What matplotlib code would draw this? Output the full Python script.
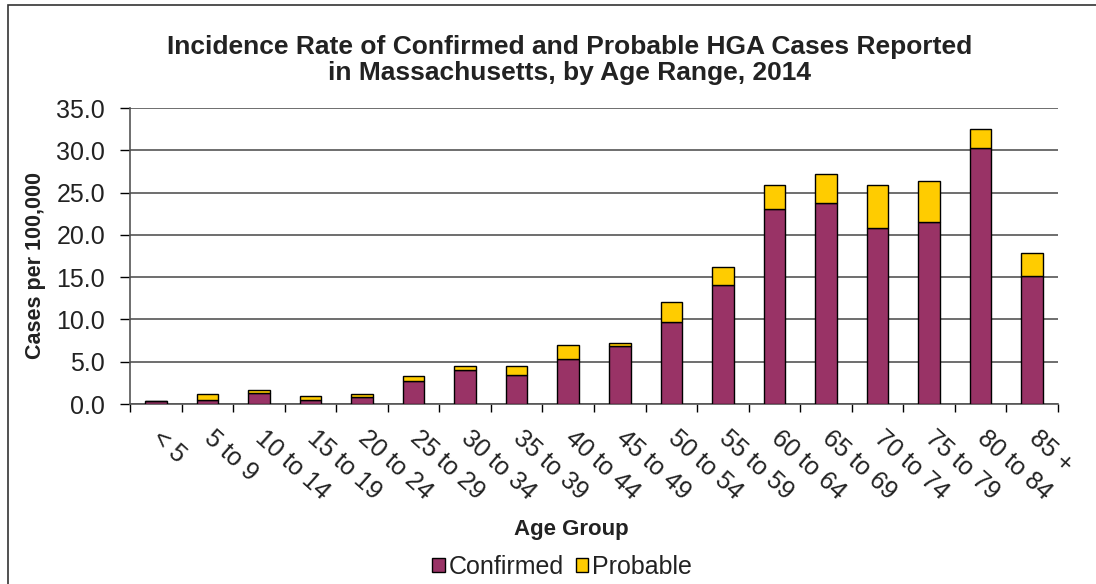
import matplotlib
matplotlib.use("Agg")
import matplotlib.pyplot as plt
import numpy as np
from matplotlib.patches import Rectangle

plt.rcParams["font.family"] = ["Liberation Sans", "DejaVu Sans"]

age_groups = ["< 5", "5 to 9", "10 to 14", "15 to 19", "20 to 24", "25 to 29",
              "30 to 34", "35 to 39", "40 to 44", "45 to 49", "50 to 54", "55 to 59",
              "60 to 64", "65 to 69", "70 to 74", "75 to 79", "80 to 84", "85 +"]
confirmed = [0.3, 0.5, 1.3, 0.5, 0.8, 2.7, 4.0, 3.4, 5.3, 6.8, 9.7, 14.1,
             23.0, 23.8, 20.8, 21.5, 30.3, 15.1]
probable = [0.1, 0.7, 0.4, 0.4, 0.4, 0.6, 0.5, 1.1, 1.7, 0.4, 2.4, 2.1,
            2.9, 3.4, 5.1, 4.9, 2.2, 2.7]
y_ticks = [0, 5, 10, 15, 20, 25, 30, 35]

W, H = 1096, 584
fig = plt.figure(figsize=(W / 100, H / 100), dpi=100)
ax = fig.add_axes([130 / W, 1 - 404 / H, (1058 - 130) / W, (404 - 108) / H])

x = np.arange(len(age_groups))
b1 = ax.bar(x, confirmed, width=0.42, color="#993366", edgecolor="black",
            linewidth=1, zorder=3, label="Confirmed")
b2 = ax.bar(x, probable, width=0.42, bottom=confirmed, color="#FFCC00",
            edgecolor="black", linewidth=1, zorder=3, label="Probable")

ax.set_xlim(-0.5, len(age_groups) - 0.5)
ax.set_ylim(0, 35)
ax.set_yticks(y_ticks)
ax.set_yticklabels([f"{v:.1f}" for v in y_ticks], fontsize=18, color="#222222")
ax.yaxis.grid(True, color="#555555", linewidth=1.2, zorder=0)
ax.tick_params(axis="y", direction="out", length=7, width=1, pad=11)

ax.set_xticks(x)
ax.set_xticklabels(age_groups, rotation=-42, rotation_mode="anchor",
                   ha="left", va="center", fontsize=18, color="#222222")
ax.set_xticks(np.arange(-0.5, len(age_groups)), minor=True)
ax.tick_params(axis="x", which="major", length=0, pad=22)
ax.tick_params(axis="x", which="minor", direction="out", length=6, width=1)

for side in ["top", "right"]:
    ax.spines[side].set_visible(False)
for side in ["left", "bottom"]:
    ax.spines[side].set_color("#555555")
    ax.spines[side].set_linewidth(1.2)

fig.text(570 / W, 1 - 60 / H,
         "Incidence Rate of Confirmed and Probable HGA Cases Reported\n"
         "in Massachusetts, by Age Range, 2014",
         ha="center", va="center", fontsize=19, fontweight="bold",
         linespacing=1.1, color="#222222")
fig.text(36 / W, 1 - 266 / H, "Cases per 100,000", rotation=90,
         ha="center", va="center", fontsize=15.5, fontweight="bold", color="#222222")
fig.text(571 / W, 1 - 530 / H, "Age Group", ha="center", va="center",
         fontsize=16, fontweight="bold", color="#222222")

fig.legend(handles=[b1, b2], loc="center", bbox_to_anchor=(562 / W, 1 - 567 / H),
           ncol=2, frameon=False, fontsize=18, handlelength=0.5,
           handleheight=0.5, handletextpad=0.15, columnspacing=0.5,
           labelcolor="#222222")

fig.patches.append(Rectangle((8 / W, -0.01), 1.2, 1 - 5 / H + 0.01,
                             transform=fig.transFigure, fill=False,
                             edgecolor="#333333", linewidth=1.2))

fig.savefig("out.png", dpi=100)
